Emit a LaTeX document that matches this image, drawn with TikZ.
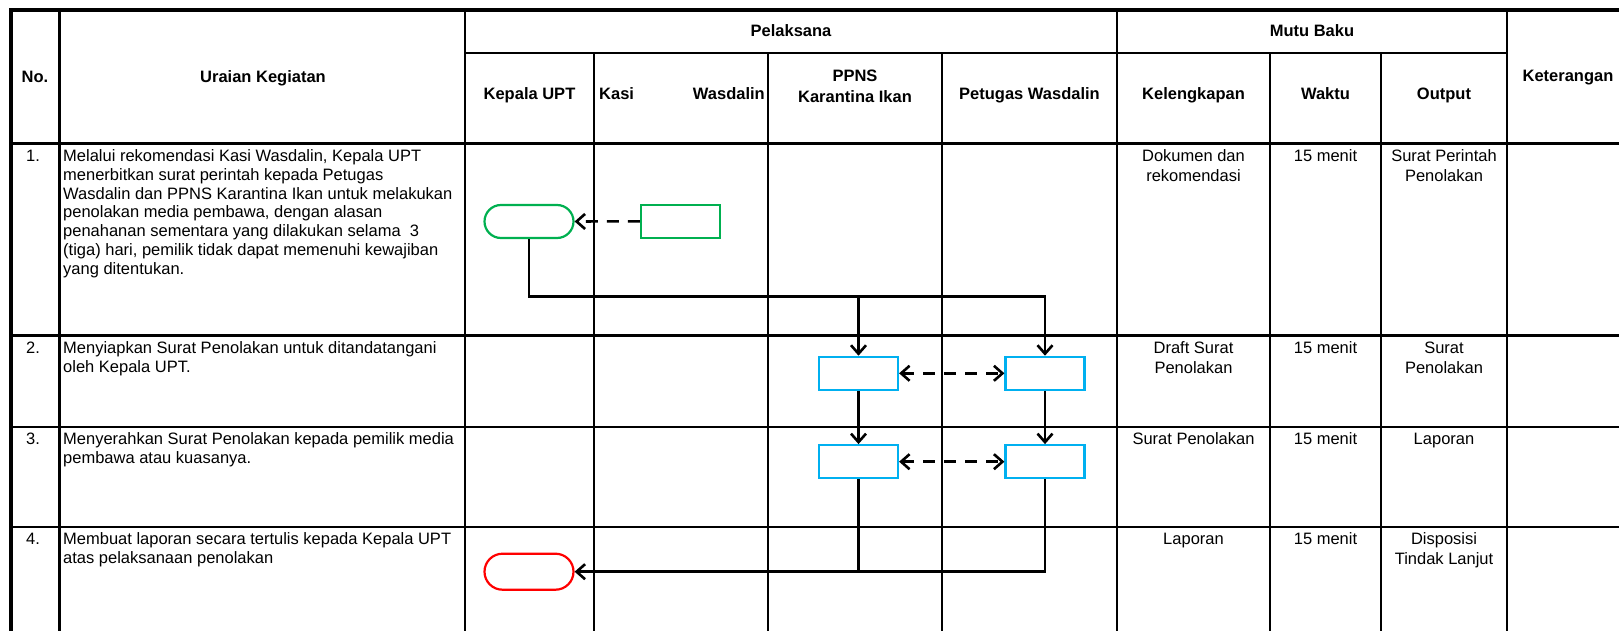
\documentclass[tikz,border=0pt]{standalone}
\usepackage{fontspec}
\setmainfont{Liberation Sans}
\usetikzlibrary{arrows.meta}
\definecolor{xgreen}{RGB}{0,176,80}
\definecolor{xblue}{RGB}{0,176,240}
\definecolor{xred}{RGB}{255,0,0}
\newcommand\ptxt[2]{\parbox[t]{#1}{#2}}
\begin{document}
\begin{tikzpicture}[x=1pt,y=-1pt,
  every node/.style={inner sep=0pt},
  body/.style={font=\fontsize{16.5}{18.8}\selectfont},
  dat/.style={font=\fontsize{16.5}{20}\selectfont, anchor=base},
  hd/.style={font=\fontsize{16.5}{21}\selectfont\bfseries, anchor=base},
  bord/.style={line width=3.3pt},
  gridl/.style={line width=2.2pt},
  term/.style={draw, rounded corners=16.5pt, minimum width=89pt, minimum height=33pt, line width=2.2pt},
  boxs/.style={draw, minimum width=79pt, minimum height=33pt, line width=2.2pt},
  conn/.style={line width=2.6pt},
  dconn/.style={conn, dash pattern=on 12pt off 9pt},
  arrowend/.style={-{Straight Barb[length=8.5pt,width=15pt]}},
  arrowboth/.style={{Straight Barb[length=8.5pt,width=15pt]}-{Straight Barb[length=8.5pt,width=15pt]}}
]
\useasboundingbox (0,0) rectangle (1619,631);
% table grid
\draw[gridl] (465,52.7) -- (1507,52.7);
\foreach \y in {335.5,426.7,526.7} \draw[gridl] (11,\y) -- (1619,\y);
\foreach \x in {594,768,942,1270,1381} \draw[gridl] (\x,52.7) -- (\x,631);
\foreach \x in {1117,1507} \draw[gridl] (\x,10) -- (\x,631);
\draw[line width=3pt] (59,10) -- (59,631);
\draw[line width=2.7pt] (465,10) -- (465,631);
\draw[bord] (11,631) -- (11,10) -- (1619,10);
\draw[bord] (11,143.3) -- (1619,143.3);
% headers
\node[hd] (hno) at (35,82.3) {No.};
\node[hd] (hur) at (263,82.3) {Uraian Kegiatan};
\node[hd] (hpl) at (791,36.7) {Pelaksana};
\node[hd] (hmb) at (1312,36.7) {Mutu Baku};
\node[hd] (hket) at (1568,81.7) {Keterangan};
\node[hd] (hkp) at (529.5,100) {Kepala UPT};
\node[hd, anchor=base west] (hks) at (599,100) {Kasi};
\node[hd, anchor=base east] (hwd) at (765,100) {Wasdalin};
\node[hd] (hpp) at (855,82) {\ptxt{170pt}{\centering PPNS\\Karantina Ikan}};
\node[hd] (hpw) at (1029.5,100) {Petugas Wasdalin};
\node[hd] (hkl) at (1193.5,100) {Kelengkapan};
\node[hd] (hwk) at (1325.5,100) {Waktu};
\node[hd] (hou) at (1444,100) {Output};
% row numbers
\node[dat] (n1) at (33,161.5) {1.};
\node[dat] (n2) at (33,353.3) {2.};
\node[dat] (n3) at (33,444.5) {3.};
\node[dat] (n4) at (33,544.5) {4.};
% descriptions
\node[body, anchor=base west] (d1) at (63,161.5) {\ptxt{420pt}{Melalui rekomendasi Kasi Wasdalin, Kepala UPT\\menerbitkan surat perintah kepada Petugas\\Wasdalin dan PPNS Karantina Ikan untuk melakukan\\penolakan media pembawa, dengan alasan\\penahanan sementara yang dilakukan selama\ \ 3\\(tiga) hari, pemilik tidak dapat memenuhi kewajiban\\yang ditentukan.}};
\node[body, anchor=base west] (d2) at (63,353.3) {\ptxt{420pt}{Menyiapkan Surat Penolakan untuk ditandatangani\\oleh Kepala UPT.}};
\node[body, anchor=base west] (d3) at (63,444.5) {\ptxt{420pt}{Menyerahkan Surat Penolakan kepada pemilik media\\pembawa atau kuasanya.}};
\node[body, anchor=base west] (d4) at (63,544.5) {\ptxt{420pt}{Membuat laporan secara tertulis kepada Kepala UPT\\atas pelaksanaan penolakan}};
% mutu baku
\node[dat] (k1) at (1193.5,161.5) {\ptxt{150pt}{\centering Dokumen dan\\rekomendasi}};
\node[dat] (w1) at (1325.5,161.5) {15 menit};
\node[dat] (o1) at (1444,161.5) {\ptxt{124pt}{\centering Surat Perintah\\Penolakan}};
\node[dat] (k2) at (1193.5,353.3) {\ptxt{150pt}{\centering Draft Surat\\Penolakan}};
\node[dat] (w2) at (1325.5,353.3) {15 menit};
\node[dat] (o2) at (1444,353.3) {\ptxt{124pt}{\centering Surat\\Penolakan}};
\node[dat] (k3) at (1193.5,444.5) {Surat Penolakan};
\node[dat] (w3) at (1325.5,444.5) {15 menit};
\node[dat] (o3) at (1444,444.5) {Laporan};
\node[dat] (k4) at (1193.5,544.5) {Laporan};
\node[dat] (w4) at (1325.5,544.5) {15 menit};
\node[dat] (o4) at (1444,544.5) {\ptxt{124pt}{\centering Disposisi\\Tindak Lanjut}};
% flow shapes
\node[term, draw=xgreen] (t1) at (529,221.5) {};
\node[boxs, draw=xgreen] (g1) at (680.5,221.3) {};
\node[boxs, draw=xblue] (b1) at (858.5,373.3) {};
\node[boxs, draw=xblue] (b2) at (1045,373.3) {};
\node[boxs, draw=xblue] (b3) at (858.5,461.7) {};
\node[boxs, draw=xblue] (b4) at (1045,461.7) {};
\node[term, draw=xred, minimum height=36pt, rounded corners=18pt] (t2) at (529,571.7) {};
\coordinate (j1) at (529,296.7);
% connectors
\draw[dconn, arrowend] (g1.west) -- (t1.east);
\draw[conn, arrowend] (t1.south) -- (j1) -| (b2.north);
\draw[conn, arrowend] (j1 -| b1.north) -- (b1.north);
\draw[dconn, arrowboth] (b1.east) -- (b2.west);
\draw[conn, arrowend] (b1.south) -- (b3.north);
\draw[conn, arrowend] (b2.south) -- (b4.north);
\draw[dconn, arrowboth] (b3.east) -- (b4.west);
\draw[conn, arrowend] (b4.south) |- (t2.east);
\draw[conn] (b3.south) -- (b3.south |- t2.east);
\end{tikzpicture}
\end{document}
